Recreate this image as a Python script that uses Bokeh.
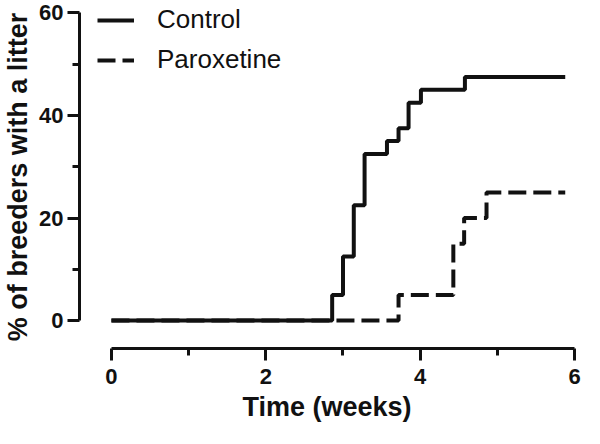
from bokeh.plotting import figure
from bokeh.models import FixedTicker, Legend, LegendItem, Range1d
from bokeh.embed import file_html
from bokeh.resources import INLINE

# Data (weeks, % of breeders with a litter)
control_x = [0, 2.86, 3.00, 3.14, 3.28, 3.57, 3.72, 3.85, 4.01, 4.58, 5.88]
control_y = [0, 5, 12.5, 22.5, 32.5, 35, 37.5, 42.5, 45, 47.5, 47.5]
parox_x = [0, 3.72, 4.43, 4.57, 4.86, 5.88]
parox_y = [0, 5, 15, 20, 25, 25]

x_major = [0, 2, 4, 6]
x_minor = [1, 3, 5]
y_major = [0, 20, 40, 60]
y_minor = [10, 30, 50]

x_title = "Time (weeks)"
y_title = "% of breeders with a litter"

FONT = "Liberation Sans"
INK = "#111111"

p = figure(width=584, height=428, output_backend="svg", toolbar_location=None,
           x_range=Range1d(-0.414, 6.0), y_range=Range1d(-5.46, 61.46),
           min_border_left=72, min_border_right=10, min_border_top=5, min_border_bottom=80)
p.outline_line_color = None
p.xgrid.visible = False
p.ygrid.visible = False
p.background_fill_color = "white"
p.border_fill_color = "white"

r_par = p.step(parox_x, parox_y, mode="after", line_color=INK, line_width=4, line_dash="18 7")
r_con = p.step(control_x, control_y, mode="after", line_color=INK, line_width=4)

for ax, ticks, minor, bounds in ((p.xaxis[0], x_major, x_minor, (0, 6)),
                                 (p.yaxis[0], y_major, y_minor, (0, 60))):
    ax.ticker = FixedTicker(ticks=ticks, minor_ticks=minor)
    ax.bounds = bounds
    ax.axis_line_width = 3
    ax.axis_line_color = INK
    ax.major_tick_line_width = 3
    ax.major_tick_line_color = INK
    ax.minor_tick_line_width = 3
    ax.minor_tick_line_color = INK
    ax.major_tick_out = 12
    ax.major_tick_in = 0
    ax.minor_tick_out = 7
    ax.minor_tick_in = 0
    ax.major_label_text_font = FONT
    ax.major_label_text_font_style = "bold"
    ax.major_label_text_font_size = "22px"
    ax.major_label_text_color = INK
    ax.axis_label_text_font = FONT
    ax.axis_label_text_font_style = "bold"
    ax.axis_label_text_font_size = "27px"
    ax.axis_label_text_color = INK
    ax.axis_label_text_line_height = 1.0

p.xaxis.major_label_standoff = 8
p.xaxis.axis_label_standoff = 5
p.xaxis.axis_label = x_title
p.yaxis.major_label_standoff = 4
p.yaxis.axis_label_standoff = 3
p.yaxis.axis_label = y_title

legend = Legend(items=[LegendItem(label="Control", renderers=[r_con]),
                       LegendItem(label="Paroxetine", renderers=[r_par])],
                location=(18, 273), margin=0, padding=0, spacing=9,
                glyph_width=37, glyph_height=30, label_height=30,
                label_standoff=23, border_line_color=None,
                background_fill_alpha=0.0,
                label_text_font=FONT, label_text_font_size="26px",
                label_text_color=INK)
p.add_layout(legend)

open("out.html", "w").write(file_html(p, INLINE))
